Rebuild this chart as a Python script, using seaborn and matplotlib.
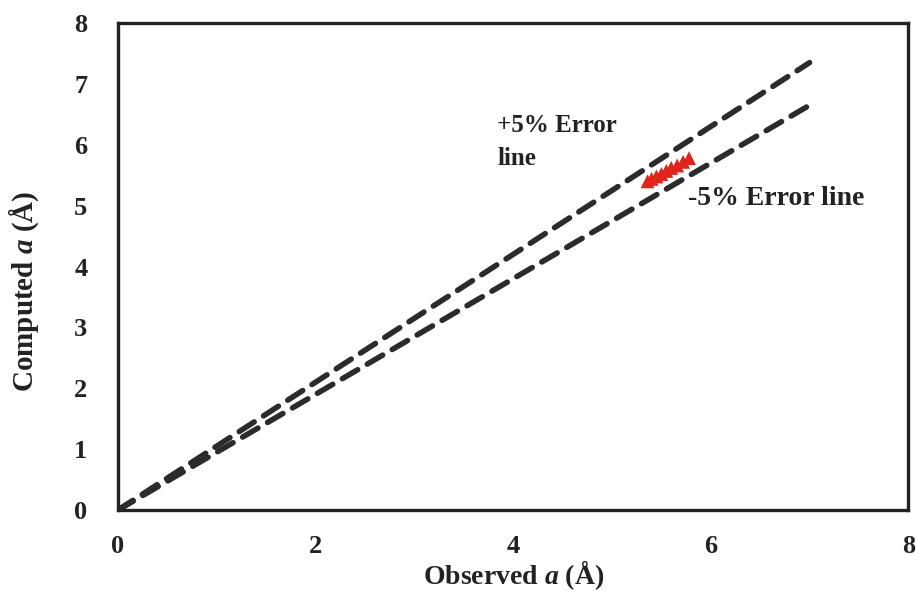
import numpy as np
import pandas as pd
import seaborn as sns
import matplotlib.pyplot as plt

# error lines (observed vs computed)
line_x = [0, 7]
plus5_y = [0, 7.35]
minus5_y = [0, 6.65]

# observed / computed lattice constants
obs_a = [5.36, 5.40, 5.45, 5.50, 5.55, 5.60, 5.66, 5.72, 5.78]
comp_a = [5.40, 5.44, 5.48, 5.52, 5.57, 5.62, 5.66, 5.72, 5.78]

sns.set_style('white')
plt.rcParams['font.family'] = ['Liberation Serif', 'DejaVu Serif']
plt.rcParams['mathtext.fontset'] = 'custom'
plt.rcParams['mathtext.it'] = 'Liberation Serif:italic:bold'

fig = plt.figure(figsize=(9.18, 5.91), dpi=100)
ax = fig.add_axes([0.1285, 0.137, 0.861, 0.824])

dash = (0, (3.2, 2.0))
sns.lineplot(x=line_x, y=plus5_y, ax=ax, color='#2b2b2b', lw=4, linestyle=dash)
sns.lineplot(x=line_x, y=minus5_y, ax=ax, color='#2b2b2b', lw=4, linestyle=dash)
for ln in ax.lines:
    ln.set_dash_capstyle('round')
sns.scatterplot(x=obs_a, y=comp_a, ax=ax, marker='^', color='#e0241c', s=100,
                edgecolor='none', zorder=3)

ax.text(3.84, 6.5, '+5% Error\nline', fontsize=18, fontweight='bold',
        color='#222222', linespacing=1.55, va='top')
ax.text(5.77, 5.12, '-5% Error line', fontsize=20, fontweight='bold',
        color='#222222', va='center')

ax.set_xlim(0, 8)
ax.set_ylim(0, 8)
ax.set_xticks([0, 2, 4, 6, 8])
ax.set_yticks(range(0, 9))
for s in ax.spines.values():
    s.set_color('#222222')
    s.set_linewidth(2.4)
ax.tick_params(axis='both', direction='out', length=6, width=2.2, color='#222222',
               labelsize=19, labelcolor='#222222')
ax.tick_params(axis='x', pad=12)
ax.tick_params(axis='y', pad=16)
for lbl in ax.get_xticklabels() + ax.get_yticklabels():
    lbl.set_fontweight('bold')

ax.set_xlabel('Observed $\\mathit{a}$ (Å)', fontsize=20, fontweight='bold',
              color='#222222', labelpad=0)
ax.set_ylabel('Computed $\\mathit{a}$ (Å)', fontsize=21, fontweight='bold',
              color='#222222')
ax.yaxis.set_label_coords(-0.098, 0.45)

fig.savefig('out.png', dpi=100)
